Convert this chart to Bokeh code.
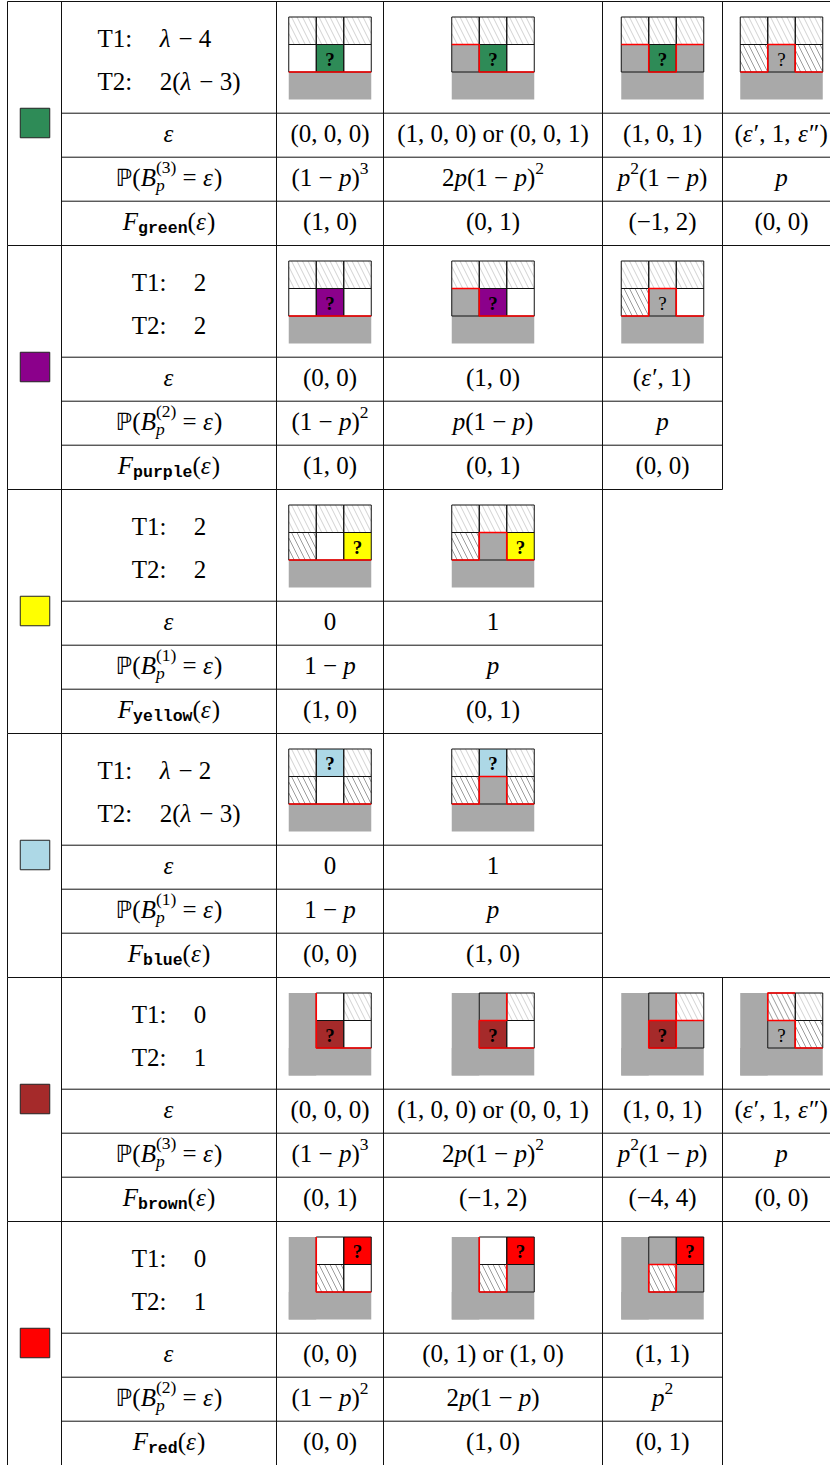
from bokeh.plotting import figure
from bokeh.models import ColumnDataSource, Range1d
from bokeh.core.properties import field
from bokeh.embed import file_html
from bokeh.resources import INLINE

# ---------------- data ----------------
block_names = ["green", "purple", "yellow", "blue", "brown", "red"]
block_colors = ["#2E8B57", "#8B008B", "#FFFF00", "#ADD8E6", "#A52A2A", "#FF0000"]
t1_values = ["λ − 4", "2", "2", "λ − 2", "0", "0"]
t2_values = ["2(λ − 3)", "2", "2", "2(λ − 3)", "1", "1"]
bern_n = ["3", "2", "1", "1", "3", "2"]

eps_values = [
    ["(0, 0, 0)", "(1, 0, 0) or (0, 0, 1)", "(1, 0, 1)", "(ε′, 1, ε″)"],
    ["(0, 0)", "(1, 0)", "(ε′, 1)"],
    ["0", "1"],
    ["0", "1"],
    ["(0, 0, 0)", "(1, 0, 0) or (0, 0, 1)", "(1, 0, 1)", "(ε′, 1, ε″)"],
    ["(0, 0)", "(0, 1) or (1, 0)", "(1, 1)"],
]
prob_values = [
    ["(1 − p)^3", "2p(1 − p)^2", "p^2(1 − p)", "p"],
    ["(1 − p)^2", "p(1 − p)", "p"],
    ["1 − p", "p"],
    ["1 − p", "p"],
    ["(1 − p)^3", "2p(1 − p)^2", "p^2(1 − p)", "p"],
    ["(1 − p)^2", "2p(1 − p)", "p^2"],
]
f_values = [
    ["(1, 0)", "(0, 1)", "(−1, 2)", "(0, 0)"],
    ["(1, 0)", "(0, 1)", "(0, 0)"],
    ["(1, 0)", "(0, 1)"],
    ["(0, 0)", "(1, 0)"],
    ["(0, 1)", "(−1, 2)", "(−4, 4)", "(0, 0)"],
    ["(0, 0)", "(1, 0)", "(0, 1)"],
]
# mini grids: W white, L light hatch, D dark hatch, G gray, g gray "?", Q coloured "?"
diagram_kind = ["flat", "flat", "flat", "flat", "corner", "corner"]
diagram_cells = [
    ["LLL/WQW", "LLL/GQW", "LLL/GQG", "LLL/DgD"],
    ["LLL/WQW", "LLL/GQW", "LLL/DgW"],
    ["LLL/DWQ", "LLL/DGQ"],
    ["LQL/DWD", "LQL/DGD"],
    ["WL/QW", "GL/QW", "GL/QG", "DL/gD"],
    ["WQ/DW", "WQ/DG", "GQ/DG"],
]
diagram_red = [
    [[[(0, 2), (3, 2)]],
     [[(0, 1), (1, 1), (1, 2), (3, 2)]],
     [[(0, 1), (1, 1), (1, 2), (2, 2), (2, 1), (3, 1)]],
     [[(0, 2), (1, 2), (1, 1), (2, 1), (2, 2), (3, 2)]]],
    [[[(0, 2), (3, 2)]],
     [[(0, 1), (1, 1), (1, 2), (3, 2)]],
     [[(0, 2), (1, 2), (1, 1), (2, 1), (2, 2), (3, 2)]]],
    [[[(0, 2), (3, 2)]],
     [[(0, 2), (1, 2), (1, 1), (2, 1), (2, 2), (3, 2)]]],
    [[[(0, 2), (3, 2)]],
     [[(0, 2), (1, 2), (1, 1), (2, 1), (2, 2), (3, 2)]]],
    [[[(1, 0), (1, 2), (3, 2)]],
     [[(2, 0), (2, 1), (1, 1), (1, 2), (3, 2)]],
     [[(2, 0), (2, 1), (3, 1)], [(1, 1), (2, 1), (2, 2), (1, 2), (1, 1)]],
     [[(2, 0), (1, 0), (1, 1), (2, 1), (2, 2), (3, 2)]]],
    [[[(1, 0), (1, 2), (3, 2)]],
     [[(1, 0), (1, 2), (2, 2), (2, 1)]],
     [[(1, 1), (2, 1), (2, 2), (1, 2), (1, 1)]]],
]

# ---------------- layout constants ----------------
TOP = 1.0
BH = 244.0
ROW = [0, 111.7, 155.7, 199.7, 244.0]
XS = [7, 61, 276, 383, 602, 722, 840]
FS = 25.0
S = 27.5
GRAY = "#A9A9A9"
LX = (XS[1] + XS[2]) / 2
YSHIFT = -8.0

SERIF = "Liberation Serif"
W_REG = {' ': 0.25, '(': 0.333, ')': 0.333, ',': 0.25, ':': 0.278, '=': 0.564,
         '−': 0.564, 'T': 0.611, 'o': 0.5, 'r': 0.333, '′': 0.27, '″': 0.45}
W_IT = {'p': 0.5, 'ε': 0.44, 'λ': 0.5, 'F': 0.611, 'B': 0.611}

FONTS = {"reg": (SERIF, "normal"), "it": (SERIF, "italic"),
         "mono": ("Liberation Mono", "bold"), "bb": ("DejaVu Sans", "normal")}


def width(text, kind, size):
    if kind == "mono":
        return 0.6 * size * len(text)
    if kind == "bb":
        return 0.7 * size * len(text)
    tab = W_IT if kind == "it" else W_REG
    return sum(tab.get(ch, 0.5) for ch in text) * size


def seg(text, kind, size, dy=0.0, adv=None):
    w = width(text, kind, size)
    return dict(text=text, kind=kind, size=size, dy=dy, adv=w if adv is None else adv)


def parse(s, size=FS):
    out = []
    i = 0
    while i < len(s):
        ch = s[i]
        if ch == '^':
            c2 = s[i + 1]
            out.append(seg(c2, "it" if c2 in W_IT else "reg", size * 0.7, -0.36 * size))
            i += 2
            continue
        kind = "it" if ch in W_IT else "reg"
        if out and out[-1]["kind"] == kind and out[-1]["dy"] == 0 and out[-1]["size"] == size:
            out[-1] = seg(out[-1]["text"] + ch, kind, size)
        else:
            out.append(seg(ch, kind, size))
        i += 1
    return out


T = dict(x=[], y=[], text=[], font=[], style=[], size=[])


def place(x, base, segs, align="center"):
    total = sum(sg["adv"] for sg in segs)
    cx = x - total / 2 if align == "center" else x
    for sg in segs:
        f, st = FONTS[sg["kind"]]
        txt = sg["text"]
        lead = len(txt) - len(txt.lstrip(" "))
        txt = txt.strip(" ")
        if txt:
            T["x"].append(cx + width(" " * lead, sg["kind"], sg["size"]))
            T["y"].append(base + sg["dy"] + YSHIFT)
            T["text"].append(txt)
            T["font"].append(f)
            T["style"].append(st)
            T["size"].append("%.1fpx" % sg["size"])
        cx += sg["adv"]


# ---------------- figure ----------------
p = figure(width=830, height=1465, x_range=Range1d(0, 830), y_range=Range1d(1465, 0),
           output_backend="svg", toolbar_location=None, min_border=0,
           x_axis_type=None, y_axis_type=None)
p.grid.visible = False
p.outline_line_color = None

ncols = [len(e) for e in eps_values]


def right_edge(b):
    return XS[2 + ncols[b]]


# table lines
lx0, ly0, lx1, ly1 = [], [], [], []
for b in range(6):
    t = TOP + b * BH
    R = right_edge(b)
    for x in [XS[0], XS[1]] + XS[2:3 + ncols[b]]:
        lx0.append(x); ly0.append(t); lx1.append(x); ly1.append(t + BH)
    for r in (1, 2, 3):
        lx0.append(XS[1]); ly0.append(t + ROW[r]); lx1.append(R); ly1.append(t + ROW[r])
for k in range(7):
    y = TOP + k * BH
    Rs = [right_edge(b) for b in (k - 1, k) if 0 <= b < 6]
    lx0.append(XS[0]); ly0.append(y); lx1.append(max(Rs)); ly1.append(y)

# diagrams
fq = dict(l=[], r=[], t=[], b=[], c=[])
bq = dict(l=[], r=[], t=[], b=[])
hatch = dict(x0=[], y0=[], x1=[], y1=[], c=[])
reds_x, reds_y = [], []
qs = dict(x=[], y=[], style=[])


def add_fill(l, r, tt, bb, c):
    fq["l"].append(l); fq["r"].append(r); fq["t"].append(tt); fq["b"].append(bb); fq["c"].append(c)


def add_hatch(x0, y0, color, k=0.5, sp=5.5):
    c = x0 - k * S
    while c < x0 + S:
        xa, ya = c, y0
        xb, yb = c + k * S, y0 + S
        if xa < x0:
            ya = y0 + (x0 - c) / k
            xa = x0
        if xb > x0 + S:
            yb = y0 + (x0 + S - c) / k
            xb = x0 + S
        if yb > ya + 0.5:
            hatch["x0"].append(xa); hatch["y0"].append(ya)
            hatch["x1"].append(xb); hatch["y1"].append(yb); hatch["c"].append(color)
        c += sp


for b in range(6):
    t = TOP + b * BH
    for j, cells in enumerate(diagram_cells[b]):
        cx = (XS[2 + j] + XS[3 + j]) / 2
        x0 = cx - 1.5 * S
        y0 = t + 15.5
        if diagram_kind[b] == "flat":
            add_fill(x0, x0 + 3 * S, y0 + 2 * S, y0 + 3 * S, GRAY)
            off = 0
        else:
            add_fill(x0, x0 + S, y0, y0 + 3 * S, GRAY)
            add_fill(x0, x0 + 3 * S, y0 + 2 * S, y0 + 3 * S, GRAY)
            off = 1
        for r, row in enumerate(cells.split("/")):
            for c, code in enumerate(row):
                gx = x0 + (c + off) * S
                gy = y0 + r * S
                col = {"W": "white", "L": "white", "D": "white", "G": GRAY,
                       "g": GRAY, "Q": block_colors[b]}[code]
                add_fill(gx, gx + S, gy, gy + S, col)
                if code == "L":
                    add_hatch(gx, gy, "#d2d2d2")
                if code == "D":
                    add_hatch(gx, gy, "#9c9c9c")
                bq["l"].append(gx); bq["r"].append(gx + S); bq["t"].append(gy); bq["b"].append(gy + S)
                if code in "Qg":
                    qs["x"].append(gx + S / 2); qs["y"].append(gy + S / 2 + 1)
                    qs["style"].append("bold" if code == "Q" else "normal")
        for path in diagram_red[b][j]:
            reds_x.append([x0 + px * S for px, py in path])
            reds_y.append([y0 + py * S for px, py in path])

p.quad(left="l", right="r", top="t", bottom="b", fill_color="c", line_color=None,
       source=ColumnDataSource(fq))
p.segment(x0="x0", y0="y0", x1="x1", y1="y1", line_color="c", line_width=1.0,
          source=ColumnDataSource(hatch))
p.quad(left="l", right="r", top="t", bottom="b", fill_color=None, line_color="#111111",
       line_width=1.0, source=ColumnDataSource(bq))
p.multi_line(xs=reds_x, ys=reds_y, line_color="#ff0000", line_width=1.6)
qs["f"] = [SERIF] * len(qs["x"])
qs["t"] = ["?"] * len(qs["x"])
p.text(x="x", y="y", text="t", source=ColumnDataSource(qs), text_font=field("f"),
       text_font_style=field("style"), text_font_size="19px", text_align="center",
       text_baseline="middle", text_color="black")

p.segment(x0=lx0, y0=ly0, x1=lx1, y1=ly1, line_color="#111111", line_width=1.0)

# coloured squares
sq_x = [34.5] * 6
sq_y = [TOP + b * BH + 121.5 for b in range(6)]
p.rect(x=sq_x, y=sq_y, width=29.5, height=29.5, fill_color=block_colors,
       line_color="#222222", line_width=1.0)

# texts
for b in range(6):
    t = TOP + b * BH
    # T1 / T2
    wl = width("T2:", "reg", FS)
    v1, v2 = parse(t1_values[b]), parse(t2_values[b])
    wv = max(sum(s_["adv"] for s_ in v1), sum(s_["adv"] for s_ in v2))
    gap = 1.1 * FS
    xs0 = LX - (wl + gap + wv) / 2
    place(xs0, t + 45, [seg("T1:", "reg", FS)], align="left")
    place(xs0 + wl + gap, t + 45, v1, align="left")
    place(xs0, t + 88, [seg("T2:", "reg", FS)], align="left")
    place(xs0 + wl + gap, t + 88, v2, align="left")

    base_e = t + (ROW[1] + ROW[2]) / 2 + 0.26 * FS
    base_p = t + (ROW[2] + ROW[3]) / 2 + 0.26 * FS
    base_f = t + (ROW[3] + ROW[4]) / 2 + 0.26 * FS
    place(LX, base_e, parse("ε"))
    sup = "(" + bern_n[b] + ")"
    ws = width(sup, "reg", FS * 0.7)
    place(LX, base_p, [seg("ℙ", "bb", FS * 0.95), seg("(", "reg", FS), seg("B", "it", FS),
                       seg("p", "it", FS * 0.7, 0.3 * FS, adv=0.0),
                       seg(sup, "reg", FS * 0.7, -0.42 * FS, adv=ws),
                       seg(" = ", "reg", FS), seg("ε", "it", FS), seg(")", "reg", FS)])
    place(LX, base_f, [seg("F", "it", FS), seg(block_names[b], "mono", FS * 0.66, 0.28 * FS),
                       seg("(", "reg", FS), seg("ε", "it", FS), seg(")", "reg", FS)])
    for j in range(ncols[b]):
        cx = (XS[2 + j] + XS[3 + j]) / 2
        place(cx, base_e, parse(eps_values[b][j]))
        place(cx, base_p, parse(prob_values[b][j]))
        place(cx, base_f, parse(f_values[b][j]))

p.text(x="x", y="y", text="text", source=ColumnDataSource(T), text_font=field("font"),
       text_font_style=field("style"), text_font_size=field("size"), text_align="left",
       text_baseline="alphabetic", text_color="black")

open("out.html", "w").write(file_html(p, INLINE))
